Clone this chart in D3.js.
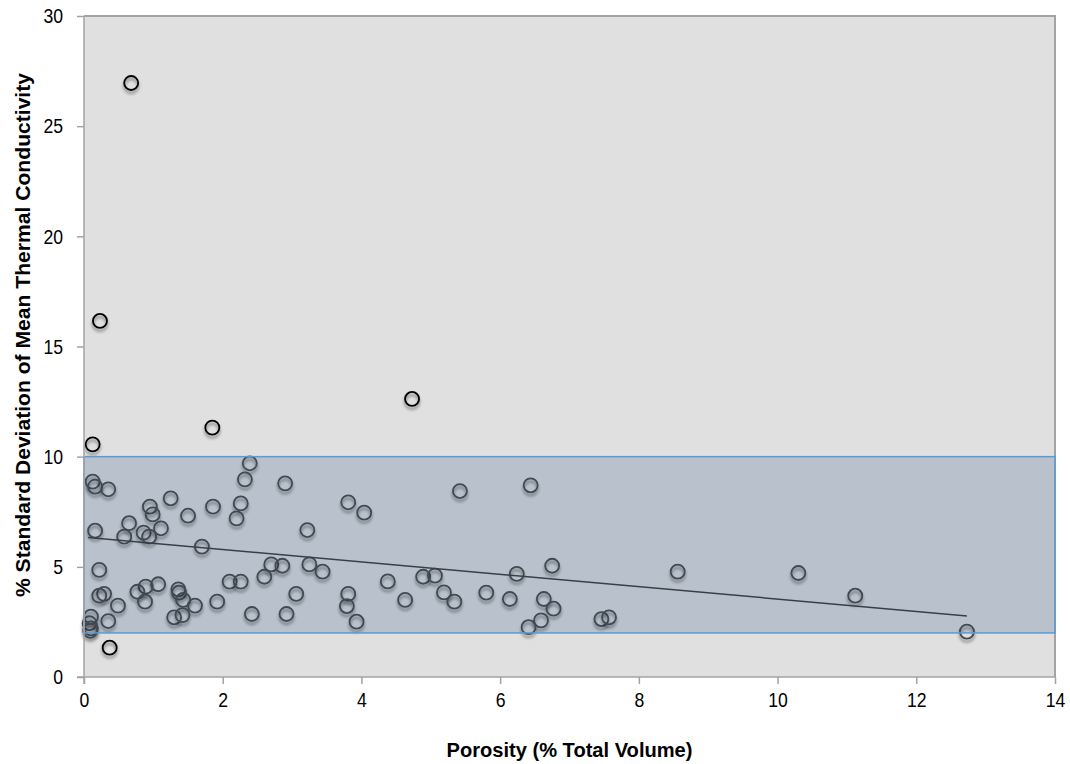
<!DOCTYPE html>
<meta charset="utf-8">
<script src="https://cdn.jsdelivr.net/npm/d3@7"></script>
<style>
body { margin: 0; background: #fff; }
text { font-family: "Liberation Sans", Arial, sans-serif; fill: #000; }
.axis line { stroke: #a3a3a3; stroke-width: 1.5; }
.axis text { font-size: 21px; }
.title { font-weight: bold; font-size: 20px; }
</style>
<body>
<script>
// porosity (% total volume)
var porosity = [0.68, 0.23, 4.73, 1.85, 0.125, 2.39, 2.32, 0.125, 0.16, 0.35,
  2.90, 6.44, 5.42, 1.25, 3.81, 4.04, 0.95, 0.99, 1.50, 1.86,
  2.26, 2.20, 0.65, 1.11, 0.86, 0.94, 0.58, 0.16, 3.22, 1.70,
  0.22, 2.70, 2.86, 3.25, 3.44, 1.07, 0.89, 0.77, 2.10, 2.26,
  2.60, 0.29, 0.22, 0.49, 0.88, 1.36, 1.37, 1.43, 1.60, 1.92,
  1.30, 1.42, 2.42, 2.92, 3.06, 0.35, 0.10, 0.08, 0.10, 0.09,
  0.37, 3.81, 3.79, 3.93, 4.38, 4.63, 4.89, 5.06, 5.19, 5.34,
  5.80, 6.14, 6.24, 6.75, 6.63, 6.77, 6.59, 6.41, 7.46, 7.57,
  8.56, 10.30, 11.12, 12.73]
// % std deviation of mean thermal conductivity
var stdDev = [26.96, 16.16, 12.62, 11.32, 10.56, 9.70, 8.97, 8.87, 8.64, 8.52,
  8.79, 8.70, 8.44, 8.11, 7.93, 7.46, 7.73, 7.38, 7.32, 7.73,
  7.88, 7.20, 6.98, 6.75, 6.55, 6.37, 6.37, 6.64, 6.67, 5.92,
  4.86, 5.11, 5.05, 5.11, 4.78, 4.21, 4.10, 3.87, 4.33, 4.33,
  4.55, 3.77, 3.69, 3.24, 3.42, 3.98, 3.83, 3.50, 3.24, 3.42,
  2.71, 2.81, 2.86, 2.86, 3.77, 2.54, 2.74, 2.44, 2.21, 2.10,
  1.33, 3.77, 3.22, 2.51, 4.34, 3.50, 4.55, 4.60, 3.84, 3.42,
  3.83, 3.54, 4.68, 5.05, 3.54, 3.10, 2.57, 2.26, 2.63, 2.71,
  4.78, 4.72, 3.69, 2.06]
var trendX = [0.06, 12.73]
var trendY = [6.33, 2.77]
var bandLow = 2, bandHigh = 10
var xTicks = [0, 2, 4, 6, 8, 10, 12, 14]
var yTicks = [0, 5, 10, 15, 20, 25, 30]

var mL = 84, mT = 16, mR = 1055, mB = 677
var squeeze = 0.84

var svg = d3.select("body").append("svg").attr("width", 1070).attr("height", 764)

var defs = svg.append("defs")
var f = defs.append("filter").attr("id", "shadow").attr("x", "-50%").attr("y", "-50%").attr("width", "200%").attr("height", "200%")
f.append("feDropShadow").attr("dx", 0).attr("dy", 3).attr("stdDeviation", 1.8).attr("flood-color", "#000").attr("flood-opacity", 0.45)

var x = d3.scaleLinear().domain([0, 14]).range([mL, mR])
var y = d3.scaleLinear().domain([0, 30]).range([mB, mT])

// plot background
svg.append("rect").attr("x", mL).attr("y", mT).attr("width", mR - mL).attr("height", mB - mT)
  .attr("fill", "#e0e0e0")

// band
svg.append("rect").attr("x", x(0)).attr("y", y(bandHigh)).attr("width", x(14) - x(0)).attr("height", y(bandLow) - y(bandHigh))
  .attr("fill", "#1f497d").attr("fill-opacity", 0.2)

// border right/top
svg.append("path").attr("d", "M" + mL + "," + mT + "H" + mR + "V" + mB)
  .attr("fill", "none").attr("stroke", "#a3a3a3").attr("stroke-width", 2)

var pts = porosity.map((d, i) => ({x: d, y: stdDev[i]}))

svg.append("g").selectAll("circle").data(pts).enter().append("circle")
  .attr("cx", d => x(d.x)).attr("cy", d => y(d.y)).attr("r", 7)
  .attr("fill", "none")
  .attr("stroke", d => (d.y >= bandLow && d.y <= bandHigh) ? "#3f4954" : "#000")
  .attr("stroke-width", 1.8)
  .attr("filter", "url(#shadow)")

// band outline on top
svg.append("rect").attr("x", x(0)).attr("y", y(bandHigh)).attr("width", x(14) - x(0)).attr("height", y(bandLow) - y(bandHigh))
  .attr("fill", "none").attr("stroke", "#5b9bd5").attr("stroke-width", 1.5)

// trend line
svg.append("line").attr("x1", x(trendX[0])).attr("y1", y(trendY[0])).attr("x2", x(trendX[1])).attr("y2", y(trendY[1]))
  .attr("stroke", "#3a3f45").attr("stroke-width", 1.5)

var gx = svg.append("g").attr("class", "axis").attr("transform", "translate(0," + mB + ")")
  .call(d3.axisBottom(x).tickValues(xTicks).tickSize(7).tickSizeOuter(0).tickPadding(8).tickFormat(d3.format("d")))
var gy = svg.append("g").attr("class", "axis").attr("transform", "translate(" + mL + ",0)")
  .call(d3.axisLeft(y).tickValues(yTicks).tickSize(7).tickSizeOuter(0).tickPadding(14).tickFormat(d3.format("d")))
gx.select(".domain").remove()
gy.select(".domain").remove()
gx.selectAll("text").attr("transform", "scale(" + squeeze + ",1)")
gy.selectAll("text").attr("x", -21 / squeeze).attr("transform", "scale(" + squeeze + ",1)")
svg.append("line").attr("x1", mL - 7).attr("x2", mR).attr("y1", mB).attr("y2", mB).attr("stroke", "#a3a3a3").attr("stroke-width", 1.5)
svg.append("line").attr("x1", mL).attr("x2", mL).attr("y1", mT).attr("y2", mB + 7).attr("stroke", "#a3a3a3").attr("stroke-width", 1.5)

svg.append("text").attr("class", "title").attr("x", (mL + mR) / 2).attr("y", 757)
  .attr("text-anchor", "middle").attr("textLength", 246).attr("lengthAdjust", "spacingAndGlyphs")
  .text("Porosity (% Total Volume)")
svg.append("text").attr("class", "title").attr("transform", "translate(30,335) rotate(-90)")
  .attr("text-anchor", "middle").attr("textLength", 524).attr("lengthAdjust", "spacingAndGlyphs")
  .text("% Standard Deviation of Mean Thermal Conductivity")
</script>
</body>
</html>
